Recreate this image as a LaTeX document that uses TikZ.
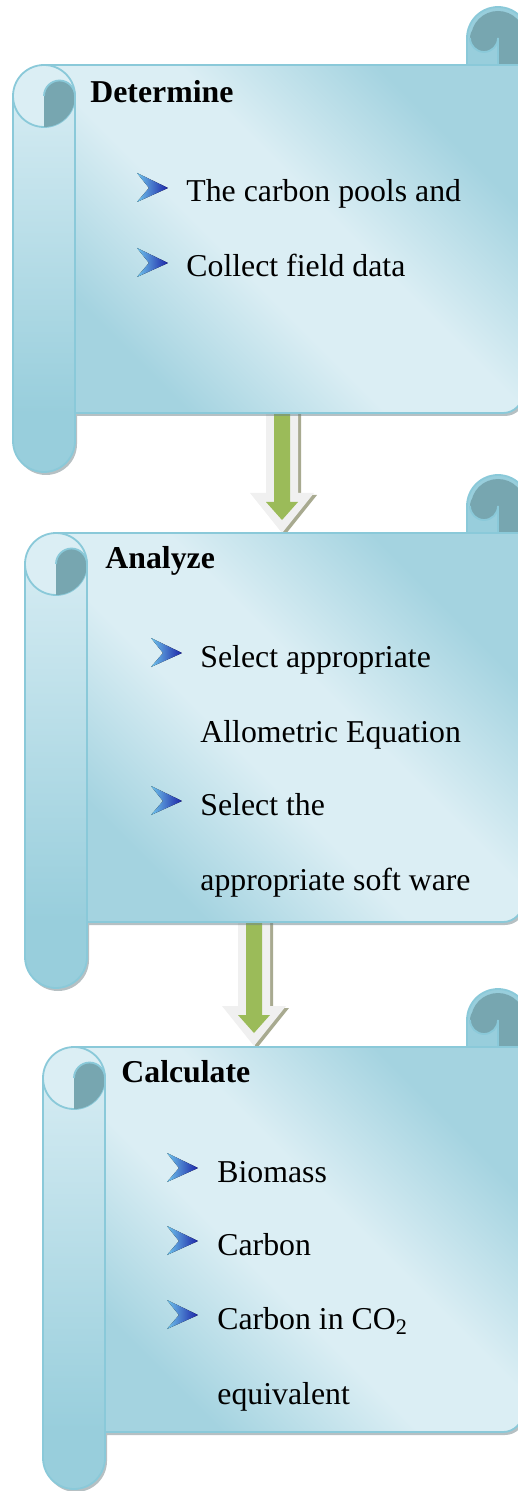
\documentclass[tikz,border=0pt]{standalone}
\usepackage{fontspec}
\setmainfont{Liberation Serif}
\usetikzlibrary{calc}
\definecolor{cpanel}{RGB}{219,238,244}
\definecolor{cpaneldk}{RGB}{164,211,224}
\definecolor{croll}{RGB}{152,206,220}
\definecolor{crolltop}{RGB}{212,235,242}
\definecolor{cedge}{RGB}{138,201,217}
\definecolor{ccurl}{RGB}{119,166,176}
\definecolor{cshadow}{RGB}{110,130,136}
\definecolor{cgreen}{RGB}{155,187,89}
\definecolor{cwhite}{RGB}{240,240,240}
\definecolor{carrsh}{RGB}{168,170,144}
\definecolor{cbullt}{RGB}{110,195,235}
\definecolor{cbulld}{RGB}{28,36,168}
\pgfdeclareverticalshading{panelshade}{100bp}{color(0bp)=(cpaneldk); color(27bp)=(cpaneldk);
  color(44bp)=(cpanel); color(56bp)=(cpanel); color(73bp)=(cpaneldk); color(100bp)=(cpaneldk)}

% block arrow: #1 top of shaft, #2 tip
\newcommand{\blockarrow}[2]{%
  \fill[carrsh] ($(#1)+(-13,2)$) -- ($(#2)+(-13,-38)$) -- ($(#2)+(-29,-38)$) -- ($(#2)+(3,2)$)
    -- ($(#2)+(35,-38)$) -- ($(#2)+(19,-38)$) -- ($(#1)+(19,2)$) -- cycle;
  \fill[cwhite] ($(#1)+(-16,0)$) -- ($(#2)+(-16,-40)$) -- ($(#2)+(-32,-40)$) -- (#2)
    -- ($(#2)+(32,-40)$) -- ($(#2)+(16,-40)$) -- ($(#1)+(16,0)$) -- cycle;
  \fill[cgreen] ($(#1)+(-8,0)$) -- ($(#2)+(-8,-31)$) -- ($(#2)+(-16,-31)$) -- ($(#2)+(0,-13)$)
    -- ($(#2)+(16,-31)$) -- ($(#2)+(8,-31)$) -- ($(#1)+(8,0)$) -- cycle;
}

\tikzset{
  edge/.style={draw=cedge, line width=0.9pt},
  head/.style={anchor=base west, inner sep=0pt, font=\fontsize{15.9}{19}\selectfont\bfseries},
  item/.style={anchor=base west, inner sep=0pt, font=\fontsize{15.9}{19}\selectfont},
  % scroll: #1 panel width, #2 panel height, #3 roll below panel
  pics/scroll/.style n args={3}{code={
    \fill[cshadow, opacity=.5] (2,34) -- (2,{#2+#3-28}) arc[start angle=180, end angle=0, radius=31]
      -- (64,{#2+3}) -- ({#1-18},{#2+3}) arc[start angle=90, end angle=0, radius=20] -- ({#1+2},3) -- (64,3) -- cycle;
    % left roll
    \fill[croll] (0,31) -- (0,{#2+#3-31}) arc[start angle=180, end angle=0, radius=31] -- (62,31) -- cycle;
    \shade[top color=crolltop, bottom color=croll] (0,31) rectangle (62,#2);
    % right curl
    \fill[croll] ({#1-56},0) -- ({#1-56},-27) arc[start angle=180, end angle=360, radius=31] -- ({#1+6},0) -- cycle;
    \fill[ccurl] ({#1-25},-27) circle[radius=27];
    \fill[ccurl] ({#1-25},-27) rectangle ({#1+2},0);
    \fill[croll] ({#1-56},-27) rectangle ({#1-25},0);
    \fill[ccurl] ({#1-39},-27) circle[radius=14];
    \draw[edge] ({#1-53},-27) arc[start angle=180, end angle=0, radius=14] -- ({#1-25},0);
    \draw[edge] ({#1-56},0) -- ({#1-56},-27) arc[start angle=180, end angle=360, radius=31];
    % panel
    \shade[shading=panelshade, shading angle=-45]
      (31,0) -- (#1,0) -- (#1,{#2-20}) arc[start angle=0, end angle=90, radius=20] -- (62,#2) -- (62,31) -- cycle;
    \draw[edge] (31,0) -- (#1,0) -- (#1,{#2-20}) arc[start angle=0, end angle=90, radius=20] -- (62,#2);
    % top-left end of the roll
    \fill[cpanel] (31,31) circle[radius=31];
    \draw[edge] (31,31) circle[radius=31];
    \fill[ccurl] (31,31) arc[start angle=180, end angle=360, radius=15.5] arc[start angle=0, end angle=90, radius=31] -- cycle;
    \draw[edge] (31,31) arc[start angle=180, end angle=360, radius=15.5];
    \draw[edge] (62,31) -- (62,#2);
    \draw[edge] (0,31) -- (0,{#2+#3-31}) arc[start angle=180, end angle=0, radius=31] -- (62,#2);
  }},
  pics/bullet/.style={code={
    \fill[left color=cbullt, right color=cbulld] (0,-29) -- (31,-14) -- (0,0) -- (12,-14) -- cycle;
  }},
}

\begin{document}
\begin{tikzpicture}[x=0.5pt, y=-0.5pt]
\useasboundingbox (0,0) rectangle (518,1491);
\clip (0,0) rectangle (518,1491);

% ---------- arrows between the scrolls ----------
\coordinate (a1top) at (282,405);
\coordinate (a1tip) at (282,533);
\coordinate (a2top) at (254,915);
\coordinate (a2tip) at (254,1046);
\blockarrow{a1top}{a1tip}
\blockarrow{a2top}{a2tip}

% ---------- scrolls ----------
\pic at (13,65) {scroll={510}{348}{59}};
\pic at (25,533) {scroll={498}{389}{66}};
\pic at (43,1047) {scroll={480}{385}{57}};

% ---------- Determine ----------
\node[head] (hdet) at (90,103) {Determine};
\pic at (137,202) {bullet};
\node[item] (det1) at (186,202) {The carbon pools and};
\pic at (137,277) {bullet};
\node[item] (det2) at (186,277) {Collect field data};

% ---------- Analyze ----------
\node[head] (hana) at (105,568) {Analyze};
\pic at (151,667) {bullet};
\node[item] (ana1) at (200,667) {Select appropriate};
\node[item] (ana2) at (200,742) {Allometric Equation};
\pic at (151,815) {bullet};
\node[item] (ana3) at (200,815) {Select the};
\node[item] (ana4) at (200,890) {appropriate soft ware};

% ---------- Calculate ----------
\node[head] (hcal) at (121,1082) {Calculate};
\pic at (167,1182) {bullet};
\node[item] (cal1) at (217,1182) {Biomass};
\pic at (167,1255) {bullet};
\node[item] (cal2) at (217,1255) {Carbon};
\pic at (167,1329) {bullet};
\node[item] (cal3) at (217,1329) {Carbon in CO\textsubscript{2}};
\node[item] (cal4) at (217,1404) {equivalent};

\end{tikzpicture}
\end{document}
